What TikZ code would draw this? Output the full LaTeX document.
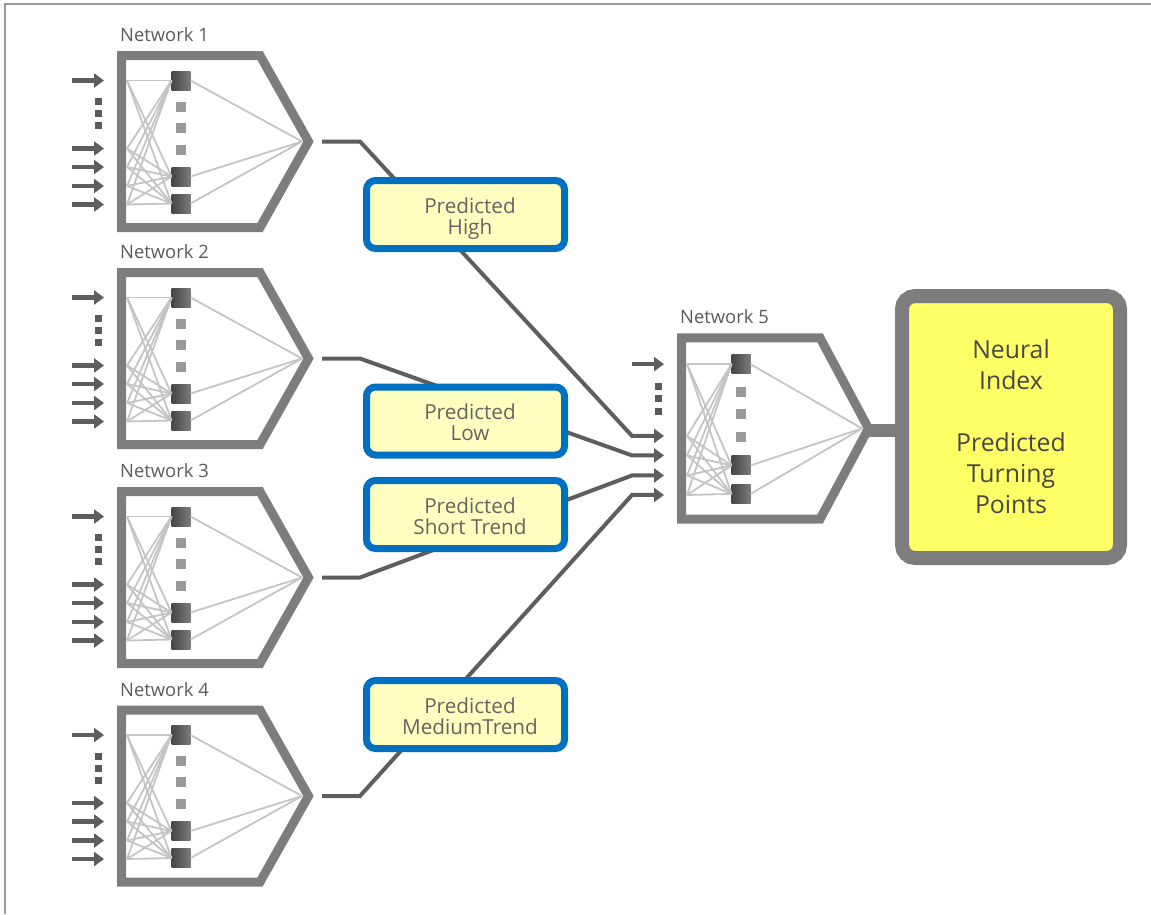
\documentclass[tikz,border=0pt]{standalone}
\usepackage{fontspec}
\setmainfont{Open Sans}
\usetikzlibrary{arrows.meta,calc}
\definecolor{netgray}{HTML}{7D7D7D}
\definecolor{conngray}{HTML}{5E5E5E}
\definecolor{linegray}{HTML}{C4C4C4}
\definecolor{dotgray}{HTML}{999999}
\definecolor{adotgray}{HTML}{5A5A5A}
\definecolor{neuroL}{HTML}{464646}
\definecolor{neuroR}{HTML}{7C7C7C}
\definecolor{labgray}{HTML}{5A5A5A}
\definecolor{boxblue}{HTML}{0070C0}
\definecolor{boxfill}{HTML}{FFFFC0}
\definecolor{predtext}{HTML}{646464}
\definecolor{bigfill}{HTML}{FFFF66}
\definecolor{bigtext}{HTML}{474747}
\definecolor{framegray}{HTML}{9A9A9A}
\newcommand\pline[1]{\hspace*{9pt}#1}
\tikzset{
  netframe/.style={draw=netgray, line width=9pt, line join=miter},
  innerline/.style={draw=linegray, line width=1.8pt},
  neuron/.style={rectangle, minimum size=19pt, inner sep=0pt, outer sep=0pt, left color=neuroL, right color=neuroR},
  hdot/.style={rectangle, fill=dotgray, minimum size=10pt, inner sep=0pt, outer sep=0pt},
  adot/.style={rectangle, fill=adotgray, minimum size=7pt, inner sep=0pt, outer sep=0pt},
  arrowtip/.style={-{Triangle[length=10pt,width=14pt]}},
  inarrow/.style={draw=conngray, line width=4.5pt, arrowtip},
  conn/.style={draw=conngray, line width=4pt, line join=miter},
  netlabel/.style={anchor=base west, inner sep=0pt, text=labgray, font=\fontsize{18.4}{20}\selectfont},
  predbox/.style={rectangle, draw=boxblue, line width=7pt, fill=boxfill, rounded corners=9pt,
    minimum width=198pt, minimum height=68pt, inner sep=0pt, align=center, text=predtext,
    text height=39pt, text depth=0pt,
    font=\fontsize{20.7}{21}\selectfont},
  bigbox/.style={rectangle, draw=netgray, line width=14pt, fill=bigfill, rounded corners=13pt,
    minimum width=218pt, minimum height=262pt, inner sep=0pt, align=center, text=bigtext,
    font=\fontsize{24.8}{31}\selectfont},
}
% #1 id, #2 left x, #3 centre y, #4 y scale, #5 standalone arrows, #6 label
\newcommand\drawnet[6]{%
\begin{scope}[shift={(#2,#3)}, yscale=#4]
  \coordinate (#1tip) at (191.5,0);
  \coordinate (#1out) at (205,0);
  \coordinate (#1conv) at (185,0);
  \node[neuron] (#1h1) at (64,-61) {};
  \node[neuron] (#1h2) at (64,35) {};
  \node[neuron] (#1h3) at (64,62) {};
  \foreach \yy [count=\k] in {-35,-14,8} {\node[hdot] (#1hd\k) at (64,\yy) {};}
  \foreach \yy [count=\k] in {-40,-28,-16} {\node[adot] (#1ad\k) at (-19,\yy) {};}
  \foreach \yy [count=\k] in {-61,7,25.5,44.5,63} {
    \coordinate (#1i\k) at (10,\yy);
    \coordinate (#1s\k) at (-45,\yy);
    \coordinate (#1e\k) at (-13,\yy);
  }
  \foreach \k in {1,...,5} {
    \foreach \j in {1,2,3} {\draw[innerline] (#1i\k) -- (#1h\j.west);}
  }
  \foreach \j in {1,2,3} {\draw[innerline] (#1h\j.east) -- (#1conv);}
  \draw[netframe] (4.5,-86) -- (143,-86) -- (191.5,0) -- (143,86) -- (4.5,86) -- cycle;
  \foreach \k in {#5} {\draw[inarrow] (#1s\k) -- (#1e\k);}
  \node[netlabel] (#1lab) at (3,-100) {#6};
\end{scope}}
\begin{document}
\begin{tikzpicture}[x=1pt, y=-1pt]
\useasboundingbox (0,0) rectangle (1151,914);
\draw[framegray, line width=2pt] (5,914) -- (5,4) -- (1151,4);

% bend points
\coordinate (ka) at (360,141.5);
\coordinate (kb) at (360,358.5);
\coordinate (kc) at (360,577.5);
\coordinate (kd) at (360,796);
\coordinate (bigleft) at (905,430);

% networks
\drawnet{na}{117}{141.5}{1}{1,2,3,4,5}{Network 1}
\drawnet{nb}{117}{358.5}{1}{1,2,3,4,5}{Network 2}
\drawnet{nc}{117}{577.5}{1}{1,2,3,4,5}{Network 3}
\drawnet{nd}{117}{796}{1}{1,2,3,4,5}{Network 4}

% output bar of network 5 (behind)
\draw[netgray, line width=13pt] (677+191.5,430) coordinate (netipb) -- (bigleft);
\drawnet{ne}{677}{428.5}{1.055}{1}{Network 5}

% connectors
\draw[conn, arrowtip] (naout) -- (ka) -- (nes2) -- (nee2);
\draw[conn, arrowtip] (nbout) -- (kb) -- (nes3) -- (nee3);
\draw[conn, arrowtip] (ncout) -- (kc) -- (nes4) -- (nee4);
\draw[conn, arrowtip] (ndout) -- (kd) -- (nes5) -- (nee5);

% prediction boxes
\node[predbox] (high) at (465.5,214.5) {\pline{Predicted}\\\pline{High}};
\node[predbox] (low) at (465.5,421) {\pline{Predicted}\\\pline{Low}};
\node[predbox] (short) at (465.5,514.5) {\pline{Predicted}\\\pline{Short Trend}};
\node[predbox] (medium) at (465.5,714.5) {\pline{Predicted}\\\pline{MediumTrend}};

% result box
\node[bigbox] (big) at (1011,427) {Neural\\Index\\~\\Predicted\\Turning\\Points};
\end{tikzpicture}
\end{document}
